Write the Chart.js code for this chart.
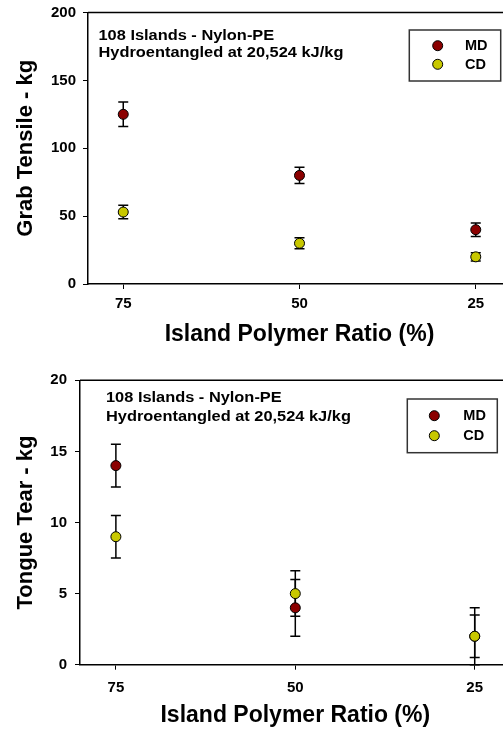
<!DOCTYPE html>
<html>
<head>
<meta charset="utf-8">
<script src="https://cdn.jsdelivr.net/npm/chart.js@4"></script>
<style>
  html, body { margin: 0; padding: 0; background: #fff; overflow: hidden; }
  body { width: 503px; height: 729px; position: relative; }
  canvas { position: absolute; left: 0; }
</style>
</head>
<body>
<canvas id="grab" width="520" height="362" style="top:0px"></canvas>
<canvas id="tear" width="520" height="365" style="top:366px"></canvas>
<script>
// Data
const ratios = [75, 50, 25];            // island polymer ratio (%)
const xTicks = [75, 50, 25];
const seriesNames = ["MD", "CD"];

const grabMD = [125, 80, 40];
const grabMDErr = [9, 6, 5];
const grabCD = [53, 30, 20];
const grabCDErr = [5, 4, 3];
const grabYTicks = [0, 50, 100, 150, 200];

const tearMD = [14, 4, 2];
const tearMDErr = [1.5, 2, 2];
const tearCD = [9, 5, 2];
const tearCDErr = [1.5, 1.6, 1.5];
const tearYTicks = [0, 5, 10, 15, 20];

const noteLines = ["108 Islands - Nylon-PE", "Hydroentangled at 20,524 kJ/kg"];
const xTitle = "Island Polymer Ratio (%)";

const FONT = '"Liberation Sans", Arial, sans-serif';
const colors = { MD: "#8b0000", CD: "#c8c800" };

function makeChart(id, cfg) {
  const canvas = document.getElementById(id);
  const W = canvas.width, H = canvas.height;

  // error bars under the markers
  const errorBars = {
    id: "errorBars",
    beforeDatasetsDraw(chart) {
      const { ctx, scales: { x, y } } = chart;
      ctx.save();
      ctx.strokeStyle = "#000";
      ctx.lineWidth = 1.5;
      cfg.series.forEach((s) => {
        s.values.forEach((v, i) => {
          const px = x.getPixelForValue(ratios[i]);
          const top = y.getPixelForValue(v + s.err[i]);
          const bot = y.getPixelForValue(v - s.err[i]);
          ctx.beginPath();
          ctx.moveTo(px, top); ctx.lineTo(px, bot);
          ctx.moveTo(px - 5, top); ctx.lineTo(px + 5, top);
          ctx.moveTo(px - 5, bot); ctx.lineTo(px + 5, bot);
          ctx.stroke();
        });
      });
      ctx.restore();
    }
  };

  // frame, note text and boxed legend
  const extras = {
    id: "extras",
    afterDraw(chart) {
      const { ctx, chartArea: a } = chart;
      ctx.save();
      ctx.strokeStyle = "#000";
      ctx.lineWidth = 1.5;
      ctx.beginPath();
      ctx.moveTo(a.left, a.top); ctx.lineTo(a.right, a.top); ctx.lineTo(a.right, a.bottom);
      ctx.stroke();

      ctx.fillStyle = "#000";
      ctx.font = "bold 14px " + FONT;
      ctx.textAlign = "left";
      ctx.textBaseline = "middle";
      noteLines.forEach((t, i) => {
        ctx.save();
        ctx.translate(cfg.note.x, cfg.note.y[i]);
        ctx.scale(1.17, 1);
        ctx.fillText(t, 0, 0);
        ctx.restore();
      });

      const L = cfg.legend;
      ctx.strokeStyle = "#333";
      ctx.lineWidth = 1.5;
      ctx.strokeRect(L.x1, L.y1, L.x2 - L.x1, L.y2 - L.y1);
      ctx.font = "bold 14.5px " + FONT;
      seriesNames.forEach((name, i) => {
        ctx.beginPath();
        ctx.arc(L.mx, L.my[i], 5, 0, Math.PI * 2);
        ctx.fillStyle = colors[name];
        ctx.fill();
        ctx.lineWidth = 1;
        ctx.strokeStyle = "#000";
        ctx.stroke();
        ctx.fillStyle = "#000";
        ctx.fillText(name, L.tx, L.my[i] + 0.5);
      });
      ctx.restore();
    }
  };

  return new Chart(canvas, {
    type: "scatter",
    data: {
      datasets: cfg.series.map((s, k) => ({
        label: seriesNames[k],
        data: s.values.map((v, i) => ({ x: ratios[i], y: v })),
        backgroundColor: colors[seriesNames[k]],
        borderColor: "#000",
        borderWidth: 1,
        pointRadius: 5,
        pointHoverRadius: 5,
        order: k === 0 ? 1 : 0
      }))
    },
    options: {
      responsive: false,
      animation: false,
      devicePixelRatio: 1,
      layout: { padding: { top: cfg.plotTop, right: W - cfg.plotRight, left: 0, bottom: 0 } },
      plugins: { legend: { display: false }, tooltip: { enabled: false } },
      scales: {
        x: {
          type: "linear",
          min: 20,
          max: 80,
          reverse: true,
          afterBuildTicks: (s) => { s.ticks = xTicks.map((v) => ({ value: v })); },
          afterFit: (s) => { s.height = H - cfg.plotBottom; s.paddingLeft = 0; s.paddingRight = 0; },
          grid: { drawOnChartArea: false, drawTicks: true, tickLength: 5, color: "#000", lineWidth: 1 },
          border: { display: true, color: "#000", width: 1.5 },
          ticks: { color: "#000", font: { family: FONT, size: 15, weight: "bold" }, padding: cfg.xTickPad, maxRotation: 0, autoSkip: false },
          title: { display: true, text: xTitle, color: "#000", font: { family: FONT, size: 23, weight: "bold" }, padding: { top: 0, bottom: cfg.xTitlePad } }
        },
        y: {
          min: Math.min(...cfg.yTicks),
          max: Math.max(...cfg.yTicks),
          afterBuildTicks: (s) => { s.ticks = cfg.yTicks.map((v) => ({ value: v })); },
          afterFit: (s) => { s.width = cfg.plotLeft; s.paddingTop = 0; s.paddingBottom = 0; },
          grid: { drawOnChartArea: false, drawTicks: true, tickLength: 5, color: "#000", lineWidth: 1 },
          border: { display: true, color: "#000", width: 1.5 },
          ticks: { color: "#000", font: { family: FONT, size: 15, weight: "bold" }, padding: cfg.yTickPad },
          title: { display: true, text: cfg.yTitle, color: "#000", font: { family: FONT, size: 22, weight: "bold" }, padding: { top: 12.3, bottom: 0 } }
        }
      }
    },
    plugins: [errorBars, extras]
  });
}

makeChart("grab", {
  series: [{ values: grabMD, err: grabMDErr }, { values: grabCD, err: grabCDErr }],
  yTicks: grabYTicks,
  yTitle: "Grab Tensile - kg",
  plotLeft: 88, plotTop: 12.5, plotBottom: 284, plotRight: 511,
  yTickPad: 7, xTickPad: 6, xTitlePad: 13.5,
  note: { x: 98.5, y: [36, 53] },
  legend: { x1: 409.3, y1: 30, x2: 500.7, y2: 81, mx: 437.7, my: [45.7, 64.3], tx: 465 }
});

makeChart("tear", {
  series: [{ values: tearMD, err: tearMDErr }, { values: tearCD, err: tearCDErr }],
  yTicks: tearYTicks,
  yTitle: "Tongue Tear - kg",
  plotLeft: 80, plotTop: 14.3, plotBottom: 298.7, plotRight: 510.6,
  yTickPad: 8, xTickPad: 8.8, xTitlePad: 1.2,
  note: { x: 106, y: [32.5, 50.7] },
  legend: { x1: 407.3, y1: 33, x2: 497.3, y2: 86.7, mx: 434.3, my: [49.7, 69.7], tx: 463.3 }
});
</script>
</body>
</html>
